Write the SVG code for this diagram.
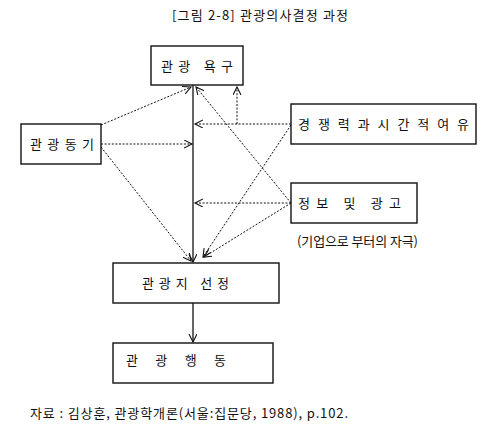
<svg xmlns="http://www.w3.org/2000/svg" width="482" height="440" viewBox="0 0 482 440">
<style>
.box{fill:#fff;stroke:#111;stroke-width:1.4}
.t{font-family:"Noto Sans CJK KR","Noto Sans",sans-serif;font-size:13px;fill:#111}
.dot{fill:none;stroke:#111;stroke-width:1;stroke-dasharray:2,1.6}
.sol{fill:none;stroke:#111;stroke-width:1.3}
</style>
<defs>
<marker id="ah" markerWidth="10" markerHeight="10" refX="8" refY="4" orient="auto" markerUnits="userSpaceOnUse">
<path d="M0,0 L8,4 L0,8" fill="none" stroke="#111" stroke-width="1.1"/>
</marker>
</defs>
<rect width="482" height="440" fill="#fff"/>
<text class="t" x="172" y="20" textLength="176" lengthAdjust="spacing">[그림 2-8] 관광의사결정 과정</text>
<g id="connectors">
<line class="dot" x1="101" y1="125" x2="191" y2="87" marker-end="url(#ah)"/>
<line class="dot" x1="101" y1="144" x2="192" y2="144" marker-end="url(#ah)"/>
<line class="dot" x1="101" y1="147" x2="191" y2="261" marker-end="url(#ah)"/>
<line class="dot" x1="291" y1="124" x2="195" y2="124" marker-end="url(#ah)"/>
<line class="dot" x1="237" y1="124" x2="237" y2="87" marker-end="url(#ah)"/>
<line class="dot" x1="291" y1="203" x2="196" y2="87" marker-end="url(#ah)"/>
<line class="dot" x1="291" y1="125" x2="203" y2="257" marker-end="url(#ah)"/>
<line class="dot" x1="291" y1="203" x2="204" y2="257" marker-end="url(#ah)"/>
<line class="dot" x1="291" y1="203" x2="195" y2="203" marker-end="url(#ah)"/>
<line class="sol" x1="193" y1="85" x2="193" y2="262" marker-end="url(#ah)"/>
<line class="sol" x1="193" y1="303" x2="193" y2="342" marker-end="url(#ah)"/>
</g>
<g id="n-desire">
<rect class="box" x="151" y="46" width="92" height="39"/>
<text class="t" x="161" y="71" textLength="72" lengthAdjust="spacing">관광 욕구</text>
</g>
<g id="n-motive">
<rect class="box" x="21" y="124" width="80" height="40"/>
<text class="t" x="30" y="149" textLength="64" lengthAdjust="spacing">관광동기</text>
</g>
<g id="n-competition">
<rect class="box" x="291" y="104" width="185" height="40"/>
<text class="t" x="298" y="129" textLength="171" lengthAdjust="spacing">경쟁력과시간적여유</text>
</g>
<g id="n-info">
<rect class="box" x="291" y="183" width="126" height="40"/>
<text class="t" x="298" y="208" textLength="103" lengthAdjust="spacing">정보 및 광고</text>
<text class="t" x="297" y="246" textLength="121" lengthAdjust="spacing">(기업으로 부터의 자극)</text>
</g>
<g id="n-select">
<rect class="box" x="113" y="263" width="166" height="40"/>
<text class="t" x="142" y="288" textLength="87" lengthAdjust="spacing">관광지 선정</text>
</g>
<g id="n-behavior">
<rect class="box" x="113" y="343" width="160" height="40"/>
<text class="t" x="126" y="365" textLength="100" lengthAdjust="spacing">관  광   행  동</text>
</g>
<text class="t" x="30" y="418" textLength="318" lengthAdjust="spacing">자료 : 김상훈, 관광학개론(서울:집문당, 1988), p.102.</text>
</svg>
